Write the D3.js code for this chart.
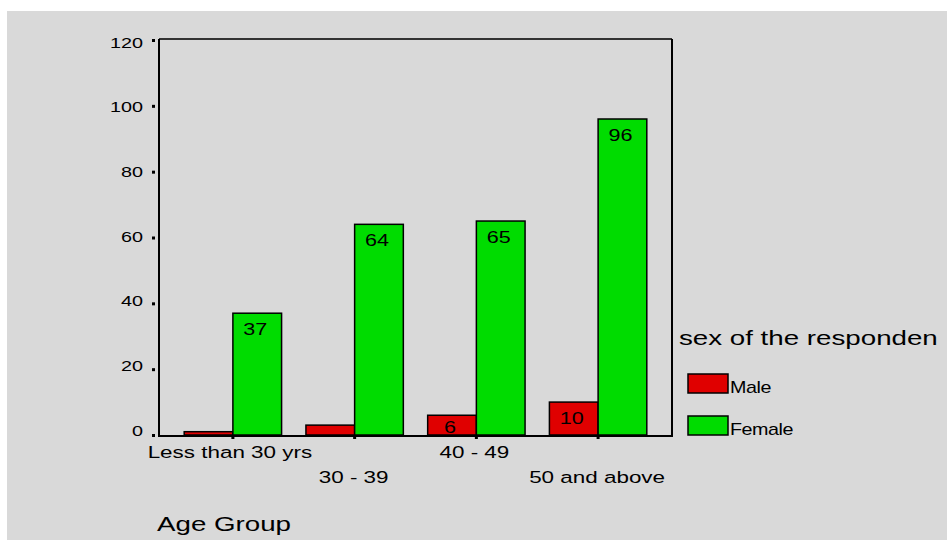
<!DOCTYPE html>
<html>
<head>
<meta charset="utf-8">
<script src="https://cdn.jsdelivr.net/npm/d3@7"></script>
<style>
  html, body { margin: 0; padding: 0; background: #ffffff; }
  svg { display: block; font-family: "Liberation Sans", Arial, sans-serif; }
</style>
</head>
<body>
<svg id="chart" width="947" height="540"></svg>
<script>
// Respondent counts by age group and sex
const categories = ["Less than 30 yrs", "30 - 39", "40 - 49", "50 and above"];
const seriesNames = ["Male", "Female"];
const maleCounts = [1, 3, 6, 10];
const femaleCounts = [37, 64, 65, 96];
const yTicks = [0, 20, 40, 60, 80, 100, 120];
const colors = { Male: "#e00000", Female: "#00dc00" };

const svg = d3.select("#chart");
const W = 947, H = 540;
const SX = 1.32; // horizontal stretch of the lettering

// wide-lettered text placed at (x, y)
function wideText(parent, x, y, str, size, anchor, sx) {
  const g = parent.append("g").attr("transform", `translate(${x},${y}) scale(${sx || SX},1)`);
  g.append("text").attr("text-anchor", anchor || "start").attr("font-size", size).attr("fill", "#000").text(str);
  return g;
}

// grey panel
svg.append("rect").attr("x", 7).attr("y", 11).attr("width", W - 7).attr("height", H - 11).attr("fill", "#d9d9d9");

const plot = { left: 159, right: 672, top: 39, bottom: 435 };

const x = d3.scaleBand().domain(categories)
  .range([plot.left, plot.right])
  .paddingInner(0.2).paddingOuter(0.207);
const xSub = d3.scaleBand().domain(seriesNames).range([0, x.bandwidth()]);
const y = d3.scaleLinear().domain([0, 120]).range([plot.bottom, plot.top + 1]);
// baselines of the value-axis labels sit on a slightly tighter spacing than the ticks
const yLabel = d3.scaleLinear().domain([0, 120]).range([435, 47]);

const rows = categories.map((c, i) => ({ cat: c, values: [
  { key: "Male", v: maleCounts[i] },
  { key: "Female", v: femaleCounts[i] }
]}));

// bars
const groups = svg.append("g").selectAll("g.grp").data(rows).join("g")
  .attr("class", "grp")
  .attr("transform", d => `translate(${x(d.cat)},0)`);
groups.selectAll("rect").data(d => d.values).join("rect")
  .attr("x", d => xSub(d.key))
  .attr("y", d => y(d.v))
  .attr("width", xSub.bandwidth())
  .attr("height", d => y(0) - y(d.v))
  .attr("fill", d => colors[d.key])
  .attr("stroke", "#000").attr("stroke-width", 1.5);

// value labels inside bars (only where there is room)
groups.each(function (d) {
  const grp = d3.select(this);
  d.values.filter(v => y(0) - y(v.v) > 15).forEach(v => {
    wideText(grp, xSub(v.key) + xSub.bandwidth() / 2 - 2, Math.min(y(v.v) + 22, y(0) - 2), v.v, 17, "middle", 1.27);
  });
});

// frame
const frame = svg.append("g").attr("fill", "none").attr("stroke", "#000").attr("stroke-width", 2);
frame.append("line").attr("x1", plot.left).attr("x2", plot.right).attr("y1", plot.top).attr("y2", plot.top).attr("stroke", "#333");
frame.append("line").attr("x1", plot.right).attr("x2", plot.right).attr("y1", plot.top).attr("y2", plot.bottom + 1);
frame.append("line").attr("x1", plot.left).attr("x2", plot.left).attr("y1", plot.top).attr("y2", plot.bottom + 1);
frame.append("line").attr("x1", plot.left - 1).attr("x2", plot.right + 1).attr("y1", plot.bottom + 1).attr("y2", plot.bottom + 1);

// y axis: square tick marks and labels
const ya = svg.append("g").attr("transform", `translate(${plot.left},0)`)
  .call(d3.axisLeft(y).tickValues(yTicks).tickSize(0).tickFormat(""));
ya.select(".domain").remove();
ya.selectAll(".tick").append("rect").attr("x", -7).attr("y", -1.5).attr("width", 3).attr("height", 3).attr("fill", "#000");
ya.selectAll(".tick").each(function (d) {
  wideText(d3.select(this), -16, yLabel(d) - y(d), d, 15, "end");
});

// x axis: square tick marks and staggered category labels
const xa = svg.append("g").attr("transform", `translate(0,${plot.bottom + 1})`)
  .call(d3.axisBottom(x).tickSize(0).tickFormat(""));
xa.select(".domain").remove();
xa.selectAll(".tick").append("rect").attr("x", -1.5).attr("y", 0).attr("width", 3).attr("height", 3).attr("fill", "#000");
const xOffsets = [-3, -1, -2, -1];
xa.selectAll(".tick").each(function (d, i) {
  wideText(d3.select(this), xOffsets[i], i % 2 === 0 ? 22 : 47, d, 17, "middle");
});

// axis title
wideText(svg, 157, 531, "Age Group", 21, "start");

// legend
wideText(svg, 679, 345, "sex of the responden", 21, "start");
const leg = svg.append("g").selectAll("g").data(seriesNames).join("g")
  .attr("transform", (d, i) => `translate(688,${374 + i * 42})`);
leg.append("rect").attr("width", 40).attr("height", 19).attr("fill", d => colors[d]).attr("stroke", "#000").attr("stroke-width", 1.5);
leg.each(function (d) {
  wideText(d3.select(this), 42, 19, d, 17, "start", 1.16).select("text").attr("letter-spacing", -0.4);
});
</script>
</body>
</html>
